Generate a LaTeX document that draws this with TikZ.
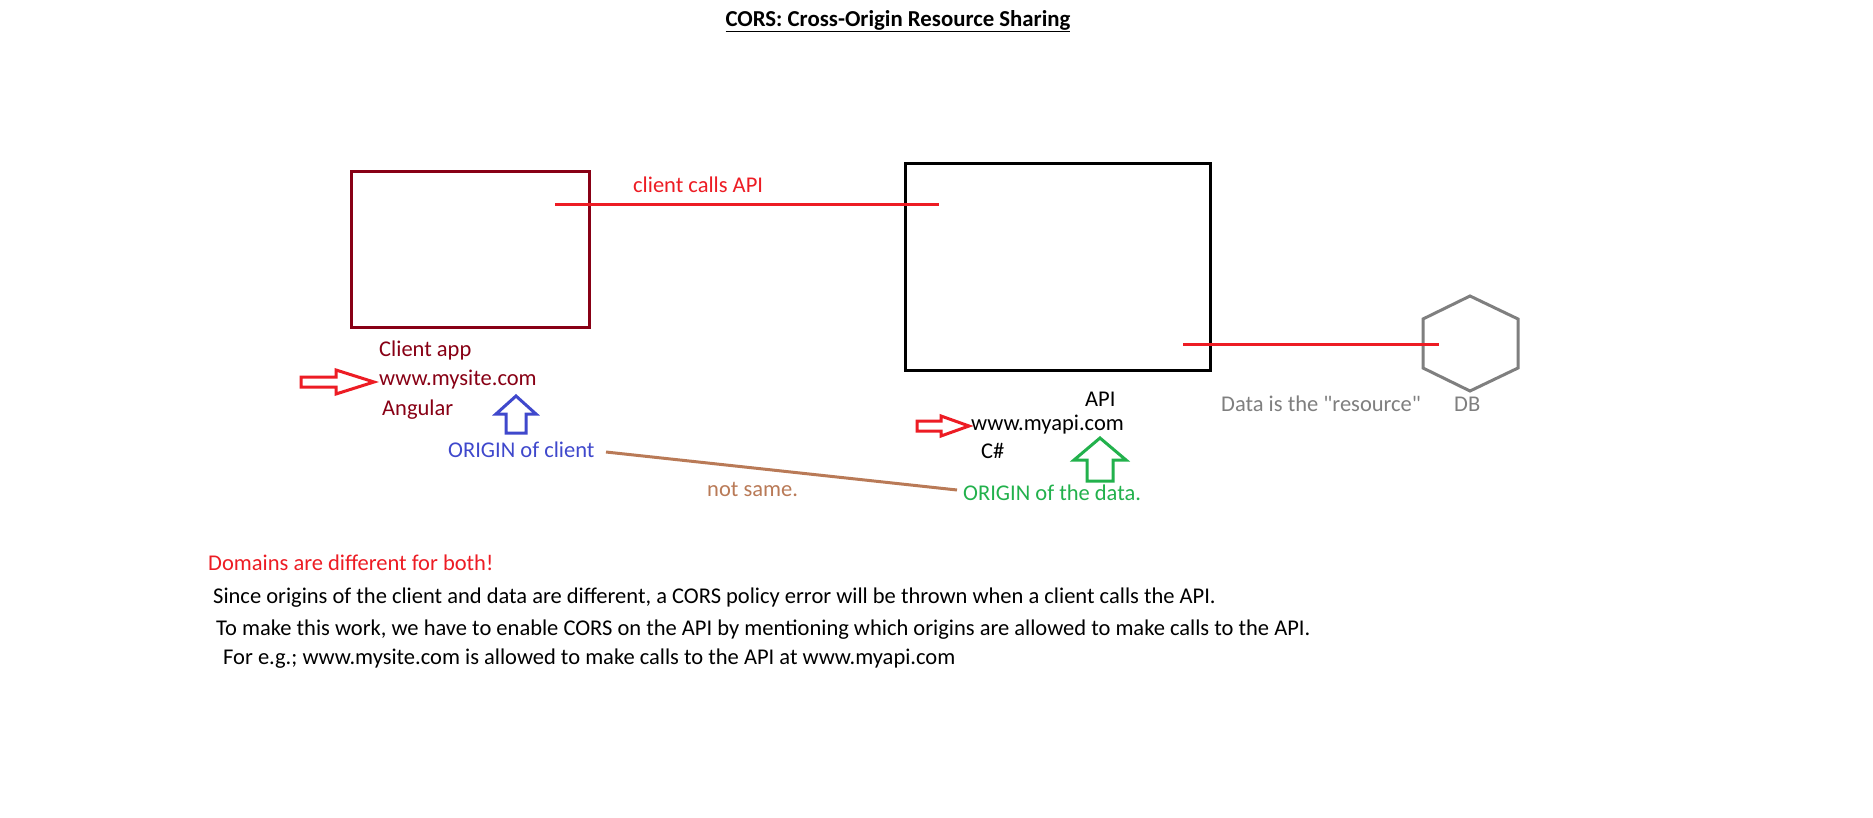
\documentclass[tikz,border=0pt]{standalone}
\usepackage{fontspec}
\setmainfont{Carlito}[Ligatures=TeXOff]
\definecolor{dred}{RGB}{136,0,21}
\definecolor{pred}{RGB}{237,28,36}
\definecolor{pblue}{RGB}{63,72,204}
\definecolor{pgreen}{RGB}{34,177,76}
\definecolor{pgray}{RGB}{127,127,127}
\definecolor{pbrown}{RGB}{185,122,87}
\tikzset{
  lbl/.style={anchor=west, inner sep=0pt, font=\fontsize{22.5}{26}\selectfont},
  boxshape/.style={draw, line width=3pt, inner sep=0pt},
  conn/.style={line width=3pt},
  hollow/.style={line width=3pt, line join=miter},
}
\begin{document}
\begin{tikzpicture}[x=1pt,y=-1pt]
\useasboundingbox[fill=white] (0,0) rectangle (1873,818);
% title
\node[inner sep=0pt, font=\fontsize{22.8}{26}\selectfont\bfseries] (title) at (898,21) {\underline{CORS: Cross-Origin Resource Sharing}};
% boxes
\node[boxshape, dred, minimum width=238pt, minimum height=155pt] (client) at (470,249.5) {};
\node[boxshape, black, minimum width=305pt, minimum height=206pt] (api) at (1057.5,267) {};
% hexagon DB
\coordinate (db) at (1470,344);
\draw[pgray, line width=3pt, line join=miter] (1470,296) -- (1518,319) -- (1518,368) -- (1470,391) -- (1423,368) -- (1423,319) -- cycle;
% connectors
\coordinate (c1) at (555,205);
\coordinate (c2) at (939,205);
\draw[conn, pred] (c1) -- (c2);
\coordinate (d1) at (1183,344);
\coordinate (d2) at (1439,344);
\draw[conn, pred] (d1) -- (d2);
\node[lbl, text=pred] (calls) at (633,185) {client calls API};
% client labels
\node[lbl, text=dred] (capp) at (379,351) {Client app};
\node[lbl, text=dred] (csite) at (379,380) {www.mysite.com};
\node[lbl, text=dred] (cang) at (382,410) {Angular};
% api labels
\node[lbl] (aapi) at (1085,399) {API};
\node[lbl] (asite) at (971,425) {www.myapi.com};
\node[lbl] (acs) at (981,451) {C\#};
% origins
\node[lbl, text=pblue] (oc) at (448,450) {ORIGIN of client};
\node[lbl, text=pgreen] (od) at (963,493) {ORIGIN of the data.};
\coordinate (b1) at (606,452);
\coordinate (b2) at (957,490);
\draw[conn, pbrown] (b1) -- (b2);
\node[lbl, text=pbrown] (ns) at (707,489) {not same.};
% data labels
\node[lbl, text=pgray] (res) at (1221,404) {Data is the "resource"};
\node[lbl, text=pgray] (dbl) at (1454,404) {DB};
% hollow arrows
\draw[hollow, pred] (301,377) -- (336,377) -- (336,370) -- (374,382) -- (336,394) -- (336,387) -- (301,387) -- cycle;
\draw[hollow, pred] (917,421) -- (941,421) -- (941,416) -- (969,426) -- (941,436) -- (941,431) -- (917,431) -- cycle;
\draw[hollow, pblue] (516,396) -- (536,414) -- (526,414) -- (526,433) -- (506,433) -- (506,414) -- (496,414) -- cycle;
\draw[hollow, pgreen] (1100,438) -- (1126,460) -- (1113,460) -- (1113,481) -- (1087,481) -- (1087,460) -- (1074,460) -- cycle;
% bottom text
\node[lbl, text=pred] (dom) at (208,563) {Domains are different for both!};
\node[lbl] (t1) at (213,598) {Since origins of the client and data are different, a CORS policy error will be thrown when a client calls the API.};
\node[lbl] (t2) at (216,630) {To make this work, we have to enable CORS on the API by mentioning which origins are allowed to make calls to the API.};
\node[lbl] (t3) at (223,659) {For e.g.; www.mysite.com is allowed to make calls to the API at www.myapi.com};
\end{tikzpicture}
\end{document}
